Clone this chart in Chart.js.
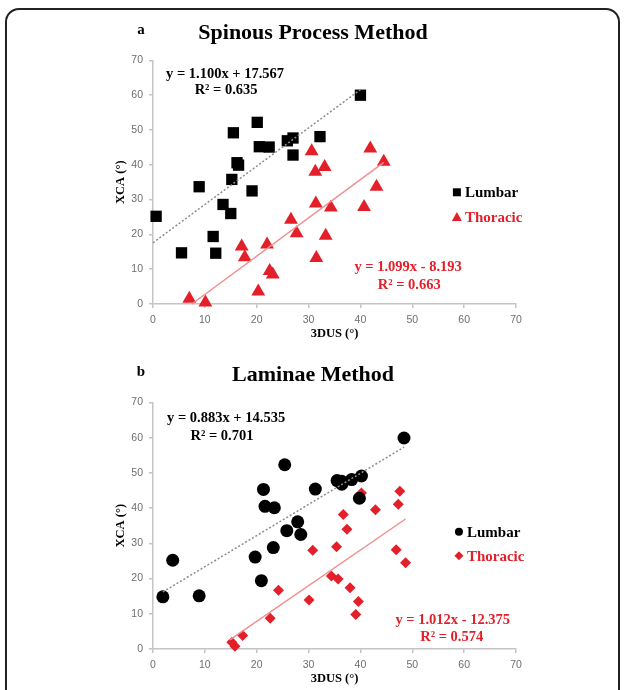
<!doctype html>
<html lang="en">
<head>
<meta charset="UTF-8">
<title>XCA vs 3DUS</title>
<style>
    html, body { margin: 0; padding: 0; background: #fff; }
    body { width: 624px; height: 690px; position: relative; overflow: hidden; }
    #frame { position: absolute; left: 5px; top: 8px; width: 611px; height: 720px;
             border: 2px solid #222; border-radius: 14px; }
    canvas { position: absolute; left: 0; }
    #chartA { top: 0; }
    #chartB { top: 342px; }
</style>
</head>
<body>
<div id="frame"></div>
<canvas id="chartA" width="624" height="345"></canvas>
<canvas id="chartB" width="624" height="348"></canvas>
<script src="https://cdn.jsdelivr.net/npm/chart.js@4/dist/chart.umd.min.js"></script>
<script>
// ---- data ----
var axisTicks = [0, 10, 20, 30, 40, 50, 60, 70];

// a: Spinous Process Method
var spLumbarX = [40, 20.1, 15.5, 20.5, 22.4, 25.9, 27.0, 32.2, 27.0, 16.2, 16.5, 15.2, 8.9, 19.1, 13.5, 15.0, 0.6, 11.6, 5.5, 12.1];
var spLumbarY = [60, 52.2, 49.2, 45.2, 45.1, 46.9, 47.7, 48.1, 42.8, 40.6, 39.9, 35.8, 33.7, 32.5, 28.6, 26.0, 25.2, 19.4, 14.7, 14.6];
var spThoracicX = [30.6, 41.9, 44.5, 31.3, 33.1, 31.4, 34.3, 43.1, 40.7, 26.6, 27.7, 33.3, 17.1, 17.7, 22.0, 31.5, 22.5, 23.1, 20.3, 7.0, 10.1];
var spThoracicY = [43.9, 44.7, 40.9, 38.0, 39.4, 28.9, 27.7, 33.7, 27.9, 24.2, 20.3, 19.6, 16.5, 13.4, 17.1, 13.2, 9.5, 8.5, 3.6, 1.5, 0.4];
var spLumbarFitX = [0, 40];
var spLumbarFitY = [17.6, 61.6];
var spThoracicFitX = [7.5, 44.5];
var spThoracicFitY = [0, 40.7];

// b: Laminae Method
var lmLumbarX = [48.4, 25.4, 21.3, 31.3, 35.5, 36.4, 36.4, 38.3, 40.2, 39.8, 21.6, 23.4, 27.9, 25.8, 28.5, 23.2, 19.7, 3.8, 20.9, 1.9, 8.9];
var lmLumbarY = [59.9, 52.3, 45.3, 45.4, 47.8, 47.6, 46.8, 48.1, 49.1, 42.8, 40.5, 40.1, 36.1, 33.6, 32.5, 28.8, 26.1, 25.2, 19.4, 14.8, 15.1];
var lmThoracicX = [40.2, 47.6, 47.3, 42.9, 36.7, 37.4, 35.4, 30.8, 46.9, 48.7, 34.4, 35.7, 38.0, 24.2, 30.1, 39.6, 39.1, 22.6, 17.3, 15.2, 15.8];
var lmThoracicY = [44.3, 44.8, 41.1, 39.5, 38.2, 34.0, 29.0, 28.0, 28.2, 24.5, 20.7, 19.9, 17.4, 16.7, 13.9, 13.5, 9.8, 8.7, 3.8, 1.9, 0.8];
var lmLumbarFitX = [1.9, 48.4];
var lmLumbarFitY = [16.2, 57.3];
var lmThoracicFitX = [14.8, 48.7];
var lmThoracicFitY = [2.6, 36.9];

var seriesNames = ["Lumbar", "Thoracic"];
var spEquations = ["y = 1.100x + 17.567", "R\u00b2 = 0.635", "y = 1.099x - 8.193", "R\u00b2 = 0.663"];
var lmEquations = ["y = 0.883x + 14.535", "R\u00b2 = 0.701", "y = 1.012x - 12.375", "R\u00b2 = 0.574"];

var BLACK = "#000000";
var RED = "#e3202a";
var SERIF = "'Liberation Serif', 'Times New Roman', serif";
var SANS = "'Liberation Sans', Arial, sans-serif";

var toPoints = function (xs, ys) {
    return xs.map(function (x, i) { return {x: x, y: ys[i]}; });
};

var drawMarker = function (ctx, style, x, y, r, color) {
    ctx.save();
    ctx.fillStyle = color;
    ctx.beginPath();
    if (style === "rect") {
        ctx.rect(x - r, y - r, 2 * r, 2 * r);
    } else if (style === "triangle") {
        ctx.moveTo(x, y - r);
        ctx.lineTo(x + r, y + r * 0.8);
        ctx.lineTo(x - r, y + r * 0.8);
        ctx.closePath();
    } else if (style === "circle") {
        ctx.arc(x, y, r, 0, Math.PI * 2);
    } else {
        ctx.moveTo(x, y - r);
        ctx.lineTo(x + r, y);
        ctx.lineTo(x, y + r);
        ctx.lineTo(x - r, y);
        ctx.closePath();
    }
    ctx.fill();
    ctx.restore();
};

// notes: equations, in-plot legend and panel letter
var notesPlugin = {
    id: "notes",
    afterDatasetsDraw: function (chart, args, opts) {
        var ctx = chart.ctx;
        var xs = chart.scales.x, ys = chart.scales.y;
        ctx.save();
        ctx.textBaseline = "middle";
        ctx.textAlign = "center";
        ctx.font = "bold 14.5px " + SERIF;
        opts.equations.forEach(function (t, i) {
            var pos = opts.eqPos[i];
            ctx.fillStyle = i < 2 ? BLACK : RED;
            ctx.fillText(t, xs.getPixelForValue(pos[0]), ys.getPixelForValue(pos[1]));
        });
        // legend
        ctx.textAlign = "left";
        ctx.font = "bold 15px " + SERIF;
        seriesNames.forEach(function (name, i) {
            var pos = opts.legendPos[i];
            var px = xs.getPixelForValue(pos[0]);
            var py = ys.getPixelForValue(pos[1]);
            var color = i === 0 ? BLACK : RED;
            drawMarker(ctx, opts.legendStyles[i], px, py, opts.legendSizes[i], color);
            ctx.fillStyle = color;
            ctx.fillText(name, px + 8, py + 1);
        });
        // panel letter
        ctx.fillStyle = BLACK;
        ctx.font = "bold 15px " + SERIF;
        ctx.textAlign = "center";
        ctx.fillText(opts.letter, 141, 30);
        ctx.restore();
    }
};

var axisOptions = function (title, isX) {
    return {
        type: "linear",
        min: 0,
        max: 70,
        afterBuildTicks: function (scale) {
            scale.ticks = axisTicks.map(function (v) { return {value: v}; });
        },
        afterFit: function (scale) {
            if (isX) { scale.height = 41; } else { scale.width = 43; }
        },
        border: {color: "#c4c4c4", width: 1.5},
        grid: {drawOnChartArea: false, drawTicks: true, tickLength: 4, color: "#c4c4c4", lineWidth: 1.5},
        ticks: {
            color: "#6e6e6e",
            font: {family: SANS, size: 10.5},
            padding: isX ? 6 : 6,
            maxRotation: 0,
            autoSkip: false
        },
        title: {
            display: true,
            text: title,
            color: BLACK,
            font: {family: SERIF, size: 12.5, weight: "bold"},
            padding: isX ? {top: 0, bottom: 4} : {top: 3, bottom: 0}
        }
    };
};

var makeChart = function (id, cfg) {
    var ctx = document.getElementById(id).getContext("2d");
    return new Chart(ctx, {
        type: "scatter",
        data: {
            datasets: [
                {
                    label: "Lumbar fit",
                    type: "line",
                    data: toPoints(cfg.lumbarFitX, cfg.lumbarFitY),
                    borderColor: "#8c8c8c",
                    borderWidth: 1.5,
                    borderDash: [2, 2],
                    pointRadius: 0,
                    fill: false,
                    clip: false
                },
                {
                    label: "Thoracic fit",
                    type: "line",
                    data: toPoints(cfg.thoracicFitX, cfg.thoracicFitY),
                    borderColor: "#ef8f8f",
                    borderWidth: 1.5,
                    pointRadius: 0,
                    fill: false,
                    clip: false
                },
                {
                    label: "Lumbar",
                    data: toPoints(cfg.lumbarX, cfg.lumbarY),
                    pointStyle: cfg.styles[0],
                    pointRadius: cfg.radius[0],
                    backgroundColor: BLACK,
                    borderColor: BLACK,
                    borderWidth: 0,
                    clip: false
                },
                {
                    label: "Thoracic",
                    data: toPoints(cfg.thoracicX, cfg.thoracicY),
                    pointStyle: cfg.styles[1],
                    pointRadius: cfg.radius[1],
                    backgroundColor: RED,
                    borderColor: RED,
                    borderWidth: 0,
                    clip: false
                }
            ]
        },
        options: {
            responsive: false,
            devicePixelRatio: 1,
            animation: false,
            layout: {padding: {left: 110, right: 108, top: 0, bottom: 0}},
            scales: {
                x: axisOptions("3DUS (\u00b0)", true),
                y: axisOptions("XCA (\u00b0)", false)
            },
            plugins: {
                legend: {display: false},
                tooltip: {enabled: false},
                title: {
                    display: true,
                    text: cfg.title,
                    color: BLACK,
                    font: {family: SERIF, size: 22, weight: "bold"},
                    padding: {top: 20, bottom: 14}
                },
                notes: {
                    letter: cfg.letter,
                    equations: cfg.equations,
                    eqPos: cfg.eqPos,
                    legendPos: cfg.legendPos,
                    legendStyles: cfg.legendStyles,
                    legendSizes: cfg.legendSizes
                }
            }
        },
        plugins: [notesPlugin]
    });
};

window.onload = function () {
    makeChart("chartA", {
        title: "Spinous Process Method",
        letter: "a",
        lumbarX: spLumbarX, lumbarY: spLumbarY,
        thoracicX: spThoracicX, thoracicY: spThoracicY,
        lumbarFitX: spLumbarFitX, lumbarFitY: spLumbarFitY,
        thoracicFitX: spThoracicFitX, thoracicFitY: spThoracicFitY,
        styles: ["rect", "triangle"],
        radius: [8, 8],
        equations: spEquations,
        eqPos: [[13.9, 66.0], [14.1, 61.4], [49.2, 10.6], [49.4, 5.4]],
        legendPos: [[58.6, 32.1], [58.6, 25.0]],
        legendStyles: ["rect", "triangle"],
        legendSizes: [4, 5]
    });
    makeChart("chartB", {
        title: "Laminae Method",
        letter: "b",
        lumbarX: lmLumbarX, lumbarY: lmLumbarY,
        thoracicX: lmThoracicX, thoracicY: lmThoracicY,
        lumbarFitX: lmLumbarFitX, lumbarFitY: lmLumbarFitY,
        thoracicFitX: lmThoracicFitX, thoracicFitY: lmThoracicFitY,
        styles: ["circle", "rectRot"],
        radius: [6.5, 5.5],
        equations: lmEquations,
        eqPos: [[14.1, 65.4], [13.3, 60.5], [57.8, 8.3], [57.6, 3.4]],
        legendPos: [[59.0, 33.3], [59.0, 26.5]],
        legendStyles: ["circle", "diamond"],
        legendSizes: [4, 4.5]
    });
};
</script>
</body>
</html>
